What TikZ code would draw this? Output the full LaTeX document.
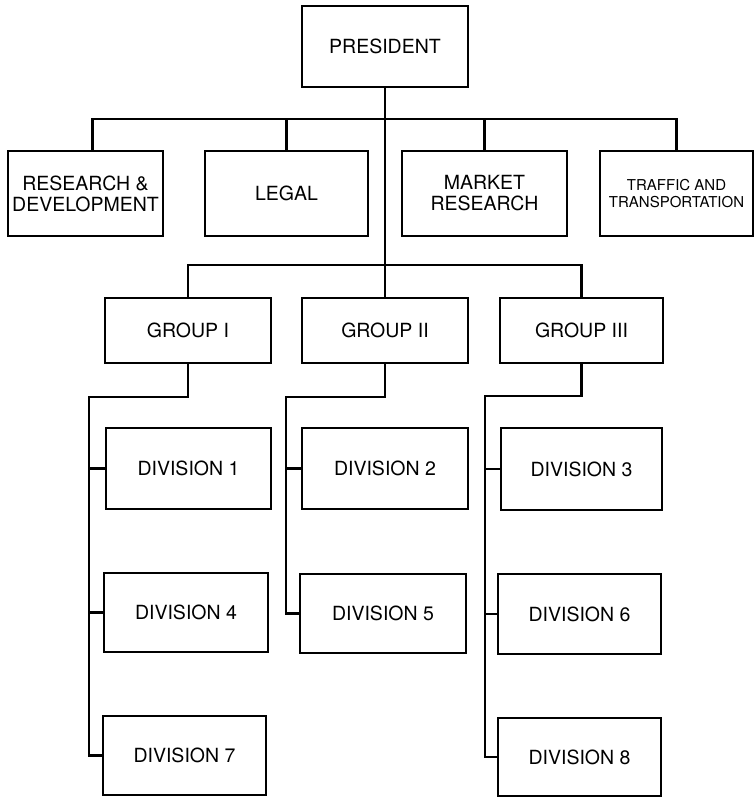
\documentclass[tikz,border=0pt]{standalone}
\usepackage{fontspec}
\setmainfont{TeX Gyre Heros}
\usetikzlibrary{calc}
\tikzset{
  orgbox/.style={draw, line width=2.2pt, inner sep=0pt, align=center,
    font=\fontsize{19.5}{21}\selectfont},
  wire/.style={line width=2.2pt, line join=miter},
}
\newcommand{\obox}[6]{% name, x1, x2, y1, y2, text
  \node[orgbox, minimum width={#3-#2}, minimum height={#5-#4}] (#1) at ({(#2+#3)/2},{-(#4+#5)/2}) {#6};}
\begin{document}
\begin{tikzpicture}[x=1pt,y=1pt]
\useasboundingbox (0,0) rectangle (755,-797);
% top
\obox{p}{302}{468}{6}{87}{PRESIDENT}
\obox{rd}{8}{163}{151}{236}{RESEARCH \&\\DEVELOPMENT}
\obox{legal}{205}{368}{151}{236}{LEGAL}
\obox{mr}{402}{567}{151}{236}{MARKET\\RESEARCH}
\node[orgbox, minimum width=153, minimum height=85, font=\fontsize{15}{16.5}\selectfont] (tt) at (676.5,-193.5) {TRAFFIC AND\\TRANSPORTATION};
% groups
\obox{g1}{105}{271}{298}{363}{GROUP I}
\obox{g2}{302}{468}{298}{363}{GROUP II}
\obox{g3}{500}{663}{298}{363}{GROUP III}
% divisions
\obox{d1}{106}{271}{428}{509}{DIVISION 1}
\obox{d2}{302}{468}{428}{509}{DIVISION 2}
\obox{d3}{501}{662}{428}{510}{DIVISION 3}
\obox{d4}{104}{268}{573}{652}{DIVISION 4}
\obox{d5}{300}{466}{574}{653}{DIVISION 5}
\obox{d6}{498}{661}{574}{654}{DIVISION 6}
\obox{d7}{103}{266}{716}{795}{DIVISION 7}
\obox{d8}{498}{661}{718}{796}{DIVISION 8}
% connectors: president level
\coordinate (busA) at (385,-119);
\coordinate (busB) at (385,-265);
\draw[wire] (p.south) -- (p.south |- g2.north);
\draw[wire] ($(rd.north)+(7,0)$) |- (tt.north |- busA) -- (tt.north);
\draw[wire] (legal.north) -- (legal.north |- busA);
\draw[wire] (mr.north) -- (mr.north |- busA);
\draw[wire] (g1.north) |- (g3.north |- busB) -- (g3.north);
% group I
\coordinate (k1) at (89,-397);
\draw[wire] (g1.south) |- (k1) |- (d7.west);
\draw[wire] (d1.west) -- (d1.west -| k1);
\draw[wire] (d4.west) -- (d4.west -| k1);
% group II
\coordinate (k2) at (286,-397);
\draw[wire] (g2.south) |- (k2) |- (d5.west);
\draw[wire] (d2.west) -- (d2.west -| k2);
% group III
\coordinate (k3) at (485,-396);
\draw[wire] (g3.south) |- (k3) |- (d8.west);
\draw[wire] (d3.west) -- (d3.west -| k3);
\draw[wire] (d6.west) -- (d6.west -| k3);
\end{tikzpicture}
\end{document}
